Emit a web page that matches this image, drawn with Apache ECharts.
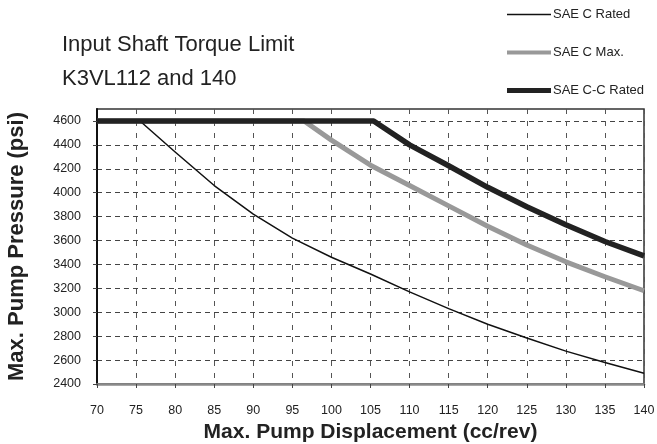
<!DOCTYPE html>
<html>
<head>
<meta charset="utf-8">
<script src="https://cdn.jsdelivr.net/npm/echarts@6/dist/echarts.min.js"></script>
<style>
html,body{margin:0;padding:0;background:#fff;}
#chart{width:657px;height:444px;}
</style>
</head>
<body>
<div id="chart"></div>
<script>
// ---- data ----
var titleLines = ['Input Shaft Torque Limit', 'K3VL112 and 140'];
var seriesNames = ['SAE C Rated', 'SAE C Max.', 'SAE C-C Rated'];
var xTicks = [70, 75, 80, 85, 90, 95, 100, 105, 110, 115, 120, 125, 130, 135, 140];
var yTicks = [2400, 2600, 2800, 3000, 3200, 3400, 3600, 3800, 4000, 4200, 4400, 4600];

var saeCRatedX = [70, 75.5, 80, 85, 90, 95, 100, 105, 110, 115, 120, 125, 130, 135, 140];
var saeCRatedY = [4600, 4600, 4340, 4060, 3820, 3620, 3460, 3320, 3170, 3030, 2900, 2785, 2675, 2580, 2490];

var saeCMaxX = [70, 96.5, 100, 105, 110, 115, 120, 125, 130, 135, 140];
var saeCMaxY = [4600, 4600, 4440, 4230, 4060, 3890, 3720, 3562, 3422, 3297, 3180];

var saeCCRatedX = [70, 105.4, 110, 115, 120, 125, 130, 135, 140];
var saeCCRatedY = [4600, 4600, 4400, 4225, 4045, 3883, 3732, 3592, 3472];

function pairs(xs, ys) { return xs.map(function (x, i) { return [x, ys[i]]; }); }

var FONT = '"Liberation Sans", Arial, Helvetica, sans-serif';
var chart = echarts.init(document.getElementById('chart'), null, {renderer: 'canvas'});

function legendFor(name, top, h, color) {
  return {
    data: [{name: name, icon: 'rect', itemStyle: {color: color}}],
    left: 507, top: top,
    itemWidth: 44, itemHeight: h, itemGap: 0,
    textStyle: {fontFamily: FONT, fontSize: 13, color: '#222', padding: [0, 0, 0, -3]},
    selectedMode: false, padding: 0
  };
}

var option = {
  animation: false,
  backgroundColor: '#ffffff',
  title: {
    text: titleLines.join('\n'),
    left: 57, top: 23,
    textStyle: {fontFamily: FONT, fontSize: 22, fontWeight: 'normal', color: '#222', lineHeight: 34}
  },
  legend: [
    legendFor(seriesNames[0], 8, 1.5, '#111'),
    legendFor(seriesNames[1], 46, 4, '#999'),
    legendFor(seriesNames[2], 84, 5, '#222')
  ],
  grid: {
    left: 97, right: 13, top: 109, bottom: 60,
    outerBoundsMode: 'none', containLabel: false,
    show: true, borderColor: '#333', borderWidth: 1.5, backgroundColor: 'transparent'
  },
  xAxis: {
    type: 'value', min: 70, max: 140, interval: 5,
    name: 'Max. Pump Displacement (cc/rev)', nameLocation: 'middle', nameGap: 31,
    nameTextStyle: {fontFamily: FONT, fontSize: 21, fontWeight: 'bold', color: '#222'},
    axisLine: {show: true, lineStyle: {color: '#8a8a8a', width: 2.5}},
    axisTick: {show: true, length: 4, inside: false, lineStyle: {color: '#444'}},
    axisLabel: {fontFamily: FONT, fontSize: 12.5, color: '#222', margin: 20, customValues: xTicks},
    splitLine: {show: true, lineStyle: {color: '#555', type: [5, 7], width: 1}}
  },
  yAxis: {
    type: 'value', min: 2400, max: 4700, interval: 200,
    name: 'Max. Pump Pressure (psi)', nameLocation: 'middle', nameGap: 69, nameRotate: 90,
    nameTextStyle: {fontFamily: FONT, fontSize: 22, fontWeight: 'bold', color: '#222'},
    axisLine: {show: true, onZero: false, lineStyle: {color: '#111', width: 2}},
    axisTick: {show: true, length: 4, inside: false, lineStyle: {color: '#444'}, customValues: yTicks},
    axisLabel: {fontFamily: FONT, fontSize: 12.5, color: '#222', margin: 16, customValues: yTicks,
      formatter: function (v) { return String(v); }},
    splitLine: {show: true, lineStyle: {color: '#444', type: [5, 4], width: 1}}
  },
  series: [
    {
      name: seriesNames[0], type: 'line', data: pairs(saeCRatedX, saeCRatedY),
      smooth: false, symbol: 'none', z: 5,
      lineStyle: {color: '#111', width: 1.5, join: 'round'}, itemStyle: {color: '#111'}
    },
    {
      name: seriesNames[1], type: 'line', data: pairs(saeCMaxX, saeCMaxY),
      smooth: false, symbol: 'none', z: 4,
      lineStyle: {color: '#999', width: 5, join: 'round'}, itemStyle: {color: '#999'}
    },
    {
      name: seriesNames[2], type: 'line', data: pairs(saeCCRatedX, saeCCRatedY),
      smooth: false, symbol: 'none', z: 6,
      lineStyle: {color: '#222', width: 5.5, join: 'round'}, itemStyle: {color: '#222'}
    }
  ]
};
chart.setOption(option);
</script>
</body>
</html>
